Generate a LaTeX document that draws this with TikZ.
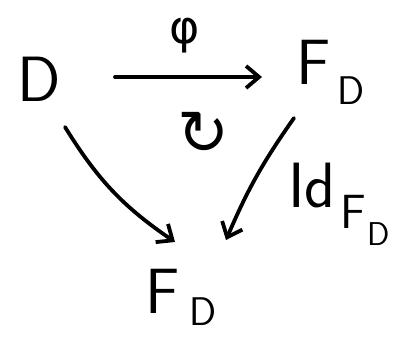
\documentclass[tikz,border=0pt]{standalone}
\usepackage{fontspec}
\newfontfamily\symfont{DejaVu Sans}
\usetikzlibrary{arrows.meta}
% an F with a lowered D beside it: #1 drop, #2 gap
\newcommand{\objF}[2]{F\kern#2\raisebox{-#1}{\fontsize{40}{40}\selectfont D}}
\begin{document}
\begin{tikzpicture}[x=1pt,y=-1pt,
  obj/.style={inner sep=0pt,anchor=base west,font=\fontsize{64}{70}\selectfont\sffamily},
  lbl/.style={inner sep=0pt,font=\fontsize{46}{50}\selectfont\symfont},
  mapto/.style={line width=3.8pt,line cap=round,-{Straight Barb[length=13pt,width=22pt,line width=3.8pt]}}]
\useasboundingbox (0,0) rectangle (393,339);
% objects of the triangle
\node[obj] (D) at (17,102) {D};
\node[obj] (FT) at (296,85) {\objF{20pt}{7pt}};
\node[obj] (FB) at (145,313) {\objF{12pt}{10pt}};
% coordinates for the arrow ends
\coordinate (a1) at (115,77);
\coordinate (a2) at (262,77);
\coordinate (b1) at (65,127);
\coordinate (b2) at (175,242);
\coordinate (c1) at (294,118);
\coordinate (c2) at (226,240);
% arrows
\draw[mapto] (a1) -- (a2);
\draw[mapto] (b1) to[bend right=12] (b2);
\draw[mapto] (c1) to[bend right=6] (c2);
% labels
\node[lbl] (phi) at (185,36) {φ};
\node[obj] (id) at (288,207)
  {Id\kern5pt\raisebox{-21pt}{\fontsize{48}{48}\selectfont F\kern1pt\raisebox{-17pt}{\fontsize{33}{33}\selectfont D}}};
\node[inner sep=0pt,font=\fontsize{62}{64}\selectfont\symfont] (comm) at (203,133) {↻};
\end{tikzpicture}
\end{document}
